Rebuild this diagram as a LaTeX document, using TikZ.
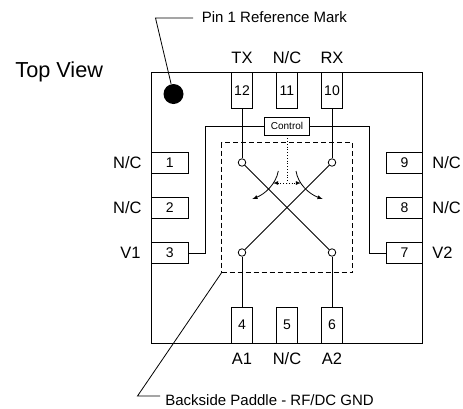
\documentclass[tikz,border=0pt]{standalone}
\usepackage{fontspec}
\setmainfont{Liberation Sans}
\tikzset{pin/.style={draw,fill=white,inner sep=0pt,font=\fontsize{14}{14}\selectfont}}
\tikzset{pinv/.style={pin,minimum width=21.5pt,minimum height=36pt}}
\tikzset{pinh/.style={pin,minimum width=36.5pt,minimum height=21pt}}
\tikzset{lbl/.style={inner sep=0pt,anchor=base,font=\fontsize{16.5}{16.5}\selectfont}}
\tikzset{note/.style={inner sep=0pt,anchor=base west,font=\fontsize{15}{15}\selectfont}}
\tikzset{sw/.style={draw,circle,fill=white,inner sep=0pt,minimum size=7.5pt}}
\begin{document}
\begin{tikzpicture}[x=1pt,y=-1pt,line width=0.8pt]
                \useasboundingbox (0,0) rectangle (463,408);

                % Package
                \node[draw,minimum width=271pt,minimum height=271pt] (pkg) at (287,207.5) {};
                \node[draw,dash pattern=on 5pt off 3pt,minimum width=131pt,minimum height=130pt] (paddle) at (287.2,207.7) {};
                \node[circle,fill=black,minimum size=20pt,inner sep=0pt] (dot) at (173.5,94) {};

                % Top pins
                \node[pinv] (pin12) at (242,90.5) {12};
                \node[pinv] (pin11) at (287,90.5) {11};
                \node[pinv] (pin10) at (332,90.5) {10};

                % Bottom pins
                \node[pinv] (pin4) at (242,325) {4};
                \node[pinv] (pin5) at (287,325) {5};
                \node[pinv] (pin6) at (332,325) {6};

                % Left pins
                \node[pinh] (pin1) at (169.7,162.5) {1};
                \node[pinh] (pin2) at (169.7,207.7) {2};
                \node[pinh] (pin3) at (169.7,253) {3};

                % Right pins
                \node[pinh] (pin9) at (404.5,162.5) {9};
                \node[pinh] (pin8) at (404.5,207.7) {8};
                \node[pinh] (pin7) at (404.5,253) {7};

                % Labels
                \node[lbl] (lblTX) at (242,63) {TX};
                \node[lbl] (lblTop) at (287,63) {N/C};
                \node[lbl] (lblRX) at (332,63) {RX};
                \node[lbl] (lblAa) at (242,364) {A1};
                \node[lbl] (lblBot) at (287,364) {N/C};
                \node[lbl] (lblAb) at (332,364) {A2};
                \node[lbl,anchor=base east] (lblNa) at (142,168) {N/C};
                \node[lbl,anchor=base east] (lblNb) at (142,213) {N/C};
                \node[lbl,anchor=base east] (lblVa) at (141,258.5) {V1};
                \node[lbl,anchor=base west] (lblNc) at (432,168) {N/C};
                \node[lbl,anchor=base west] (lblNd) at (432,213) {N/C};
                \node[lbl,anchor=base west] (lblVb) at (432,258.5) {V2};
                \node[lbl,anchor=base west,font=\fontsize{21.7}{21.7}\selectfont] (view) at (15,77) {Top View};

                % Control
                \node[draw,fill=white,inner sep=0pt,minimum width=45.5pt,minimum height=18pt,font=\fontsize{10}{10}\selectfont] (ctrl) at (287,126) {Control};
                \coordinate (ctrlLa) at (205.7,126);
                \coordinate (ctrlLb) at (205.7,253);
                \coordinate (ctrlRa) at (369,126);
                \coordinate (ctrlRb) at (369,253);
                \draw (ctrl) -- (ctrlLa) -- (ctrlLb) -- (pin3);
                \draw (ctrl) -- (ctrlRa) -- (ctrlRb) -- (pin7);

                % Switch
                \node[sw] (swTX) at (242,162.5) {};
                \node[sw] (swRX) at (332,162.5) {};
                \node[sw] (swAa) at (242,252.5) {};
                \node[sw] (swAb) at (332,252.5) {};
                \draw (pin12) -- (swTX);
                \draw (pin10) -- (swRX);
                \draw (pin4) -- (swAa);
                \draw (pin6) -- (swAb);
                \draw (swTX) -- (swAb);
                \draw (swRX) -- (swAa);

                % Throw arrows
                \coordinate (throwL) at (278.3,171);
                \coordinate (throwLe) at (252.3,199);
                \coordinate (throwR) at (296,171);
                \coordinate (throwRe) at (322.7,199);
                \draw[-latex] (throwL) .. controls (276,184) and (265,194) .. (throwLe);
                \draw[-latex] (throwR) .. controls (298,184) and (309,194) .. (throwRe);

                % Dotted control link
                \coordinate (linkM) at (287,183);
                \coordinate (linkL) at (273,183);
                \coordinate (linkR) at (301,183);
                \draw[dotted] (ctrl) -- (linkM);
                \draw[latex-latex,dotted] (linkL) -- (linkR);

                % Leaders
                \coordinate (markBend) at (155.5,18);
                \coordinate (markEnd) at (193,18);
                \node[note] (markNote) at (201.5,22.5) {Pin 1 Reference Mark};
                \draw (dot) -- (markBend) -- (markEnd);
                \coordinate (backBend) at (137.5,396);
                \coordinate (backEnd) at (160,396);
                \node[note] (backNote) at (165,405) {Backside Paddle - RF/DC GND};
                \draw (paddle.south west) -- (backBend) -- (backEnd);
\end{tikzpicture}
\end{document}
